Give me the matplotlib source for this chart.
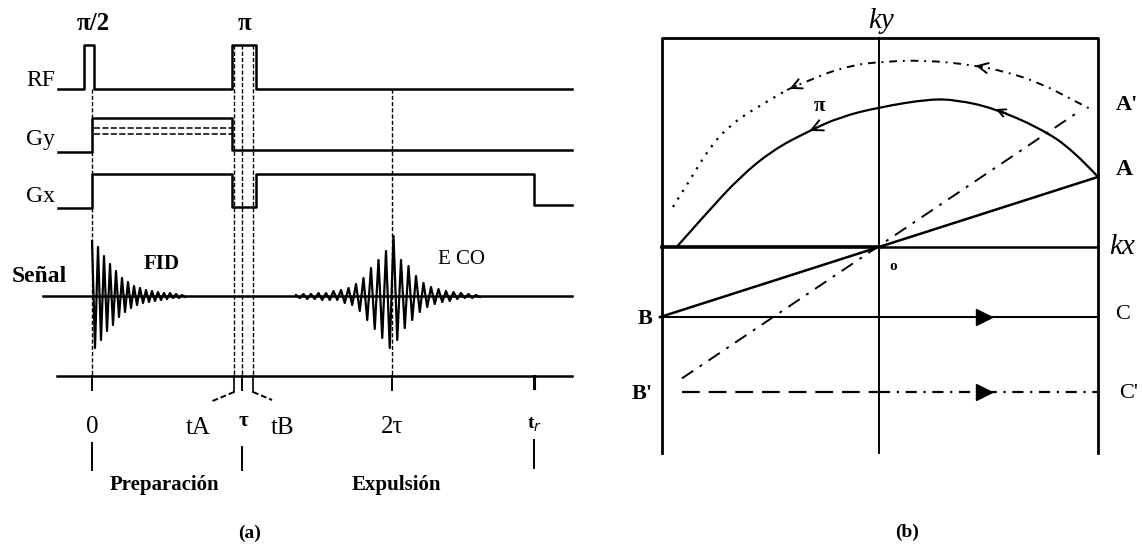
import numpy as np
import matplotlib.pyplot as plt
from matplotlib.path import Path
from matplotlib.patches import PathPatch

plt.rcParams['font.family'] = ['Liberation Serif', 'DejaVu Serif']

# ---------------- (a) spin-echo sequence, time in units of tau ----------------
t_start, t_end = -0.227, 3.2
t_sig_start = -0.327
t_pi2 = [-0.053, 0.013]          # pi/2 pulse edges
t_pi = [0.933, 1.093]            # pi pulse edges
t_A, tau, t_B = 0.947, 1.0, 1.073
t_echo, t_r = 2.0, 2.947

# row levels of each channel (top -> bottom)
rf_base, rf_top = 89, 45
gy_base, gy_base2, gy_top = 152, 150, 118
gy_dash = [128, 134]
gx_base, gx_neg, gx_top, gx_end = 208, 207, 174, 205
sig_base, axis_y = 296, 376

# peak amplitudes of the FID and the echo (alternating sign)
fid_t0, fid_dt = 0.0, 0.02
fid_peaks = [55, 52, 49, 44, 40, 35, 32, 29, 25, 21, 18, 16, 14, 12, 10, 9,
             8, 7, 6, 6, 5, 5, 4, 4, 3, 3, 3, 2, 2, 2, 1, 1]
echo_t0, echo_dt = 1.36, 0.025
echo_peaks = [1, 2, 2, 3, 2, 3, 3, 4, 3, 4, 5, 4, 6, 7, 8, 9, 12, 15, 18, 24,
              28, 33, 36, 42, 45, 52, 60, 44, 36, 32, 30, 24, 20, 16, 13, 11,
              9, 8, 7, 6, 5, 5, 4, 3, 3, 2, 2, 2, 1, 1]

# ---------------- (b) k-space trajectory ----------------
k_left, k_right, k_top, k_bottom = -0.99, 1.0, 0.954, -0.94
A = (1.0, 0.32)
B = (-1.0, -0.32)
A2 = (0.9, 0.61)
B2 = (-0.9, -0.6)
c_ky, c2_ky, c2_start = -0.32, -0.662, -0.9
arrow_kx = 0.48

arc_kx = [-0.924, -0.787, -0.635, -0.484, -0.329, -0.178, 0.005, 0.233, 0.356,
          0.521, 0.735, 0.886, 1.0]
arc_ky = [0.0, 0.155, 0.320, 0.443, 0.525, 0.594, 0.639, 0.676, 0.671,
          0.635, 0.543, 0.443, 0.32]
dot_kx = [-0.941, -0.863, -0.772, -0.680, -0.557, -0.420, -0.269, -0.119,
          0.005, 0.201, 0.429, 0.584, 0.735, 0.886, 0.973]
dot_ky = [0.183, 0.306, 0.457, 0.557, 0.639, 0.717, 0.785, 0.831, 0.845,
          0.854, 0.831, 0.799, 0.749, 0.671, 0.626]

fig = plt.figure(figsize=(11.43, 5.5), dpi=100)
fig.patch.set_facecolor('white')

ax_a = fig.add_axes([0, 0, 575 / 1143, 1])
ax_a.set_xlim(-92 / 150, 483 / 150)
ax_a.set_ylim(550, 0)
ax_a.axis('off')

lw_main = 1.8
k = 'black'

# RF
ax_a.plot([t_start, t_pi2[0], t_pi2[0], t_pi2[1], t_pi2[1], t_pi[0], t_pi[0],
           t_pi[1], t_pi[1], t_end],
          [rf_base, rf_base, rf_top, rf_top, rf_base, rf_base, rf_top, rf_top,
           rf_base, rf_base], color=k, lw=lw_main)
# Gy
ax_a.plot([t_start, 0, 0, t_pi[0], t_pi[0], t_end],
          [gy_base, gy_base, gy_top, gy_top, gy_base2, gy_base2], color=k, lw=lw_main)
for lv in gy_dash:
    ax_a.plot([0.013, t_pi[0]], [lv, lv], color=k, lw=1.1, ls=(0, (4, 1.5)))
# Gx
ax_a.plot([t_start, 0, 0, t_pi[0], t_pi[0], t_pi[1], t_pi[1], t_r, t_r, t_end],
          [gx_base, gx_base, gx_top, gx_top, gx_neg, gx_neg, gx_top, gx_top,
           gx_end, gx_end], color=k, lw=lw_main)

# dashed time markers
for t, y0 in [(0, rf_base), (t_A, rf_top), (tau, rf_top), (t_B, rf_top), (t_echo, rf_base)]:
    ax_a.plot([t, t], [y0, axis_y], color=k, lw=1.0, ls=(0, (3, 1.5)))

# signal
ax_a.plot([t_sig_start, t_end], [sig_base, sig_base], color=k, lw=lw_main)
fid = np.array(fid_peaks)
sgn = np.where(np.arange(len(fid)) % 2 == 0, 1, -1)
ax_a.plot(fid_t0 + np.arange(len(fid)) * fid_dt, sig_base - fid * sgn, color=k, lw=1.6)
echo = np.array(echo_peaks)
sgn = np.where(np.arange(len(echo)) % 2 == 0, 1, -1)
ax_a.plot(echo_t0 + np.arange(len(echo)) * echo_dt, sig_base - echo * sgn, color=k, lw=1.6)

# time axis and ticks
ax_a.plot([t_start - 0.006, t_end], [axis_y, axis_y], color=k, lw=lw_main)
for t in [0, tau, t_echo]:
    ax_a.plot([t, t], [axis_y, 390], color=k, lw=1.4)
ax_a.plot([t_r, t_r], [axis_y, 388], color=k, lw=2.2)
ax_a.plot([t_A, t_A], [axis_y, 392], color=k, lw=1.2)
ax_a.plot([t_A, 0.787], [392, 402], color=k, lw=1.4, ls=(0, (3, 1.5)))
ax_a.plot([t_B, t_B], [axis_y, 392], color=k, lw=1.2)
ax_a.plot([t_B, 1.2], [392, 400], color=k, lw=1.4, ls=(0, (3, 1.5)))

# separators under the time labels
ax_a.plot([0, 0], [443, 470], color=k, lw=1.4)
ax_a.plot([tau, tau], [447, 470], color=k, lw=1.4)
ax_a.plot([t_r, t_r], [440, 468], color=k, lw=1.4)

# texts (a)
ax_a.text(-0.245, 80, 'RF', ha='right', va='center', fontsize=17)
ax_a.text(-0.245, 140, 'Gy', ha='right', va='center', fontsize=17)
ax_a.text(-0.245, 197, 'Gx', ha='right', va='center', fontsize=17)
ax_a.text(-0.535, 277, 'Señal', ha='left', va='center', fontsize=17, fontweight='bold')
ax_a.text(0.467, 264, 'FID', ha='center', va='center', fontsize=15, fontweight='bold')
ax_a.text(2.46, 260, 'E CO', ha='center', va='center', fontsize=15)
ax_a.text(0.007, 24, 'π/2', ha='center', va='center', fontsize=18, fontweight='bold')
ax_a.text(1.02, 24, 'π', ha='center', va='center', fontsize=18, fontweight='bold')
ax_a.text(0, 427, '0', ha='center', va='center', fontsize=18)
ax_a.text(0.707, 428, 'tA', ha='center', va='center', fontsize=18)
ax_a.text(1.007, 421, 'τ', ha='center', va='center', fontsize=15, fontweight='bold')
ax_a.text(1.273, 428, 'tB', ha='center', va='center', fontsize=18)
ax_a.text(t_echo, 427, '2τ', ha='center', va='center', fontsize=18)
ax_a.text(t_r, 425, 't$_r$', ha='center', va='center', fontsize=14, fontweight='bold')
ax_a.text(0.48, 485, 'Preparación', ha='center', va='center', fontsize=15, fontweight='bold')
ax_a.text(2.03, 485, 'Expulsión', ha='center', va='center', fontsize=15, fontweight='bold')
ax_a.text(1.053, 533, '(a)', ha='center', va='center', fontsize=14, fontweight='bold')

# ---------------- panel (b) ----------------
ax_b = fig.add_axes([575 / 1143, 0, 568 / 1143, 1])
ax_b.set_xlim(-304 / 219, 264 / 219)
ax_b.set_ylim(-303 / 219, 247 / 219)
ax_b.axis('off')

ax_b.plot([k_left, k_left, k_right, k_right], [k_bottom, k_top, k_top, k_bottom],
          color=k, lw=2.0)
ax_b.plot([0, 0], [k_bottom, k_top], color=k, lw=1.4)
ax_b.plot([k_left, 0], [0, 0], color=k, lw=2.6)
ax_b.plot([0, k_right], [0, 0], color=k, lw=1.8)
ax_b.plot([B[0], A[0]], [B[1], A[1]], color=k, lw=1.8)
ax_b.plot([B2[0], A2[0]], [B2[1], A2[1]], color=k, lw=1.4, ls=(0, (7, 4, 1.5, 4)))

# B -> C and B' -> C'
ax_b.plot([k_left, k_right], [c_ky, c_ky], color=k, lw=1.5)
ax_b.plot([arrow_kx], [c_ky], marker='>', color=k, ms=11)
ax_b.plot([c2_start, 0], [c2_ky, c2_ky], color=k, lw=1.6, ls=(0, (8, 4)))
ax_b.plot([0, k_right], [c2_ky, c2_ky], color=k, lw=1.6, ls=(0, (5, 3, 1, 3)))
ax_b.plot([arrow_kx], [c2_ky], marker='>', color=k, ms=11)


def smooth_path(xs, ys):
    # quadratic B-spline through the read points, drawn by matplotlib's Path
    pts = np.column_stack([xs, ys])
    verts, codes = [pts[0]], [Path.MOVETO]
    n = len(pts)
    for i in range(1, n - 1):
        end = pts[i + 1] if i == n - 2 else (pts[i] + pts[i + 1]) / 2
        verts += [pts[i], end]
        codes += [Path.CURVE3, Path.CURVE3]
    return Path(verts, codes)


# arcs
ax_b.add_patch(PathPatch(smooth_path(arc_kx, arc_ky), fill=False, color=k, lw=1.6))
split = 6
ax_b.add_patch(PathPatch(smooth_path(dot_kx[:split], dot_ky[:split]), fill=False,
                         color=k, lw=1.6, ls=(0, (1, 3))))
ax_b.add_patch(PathPatch(smooth_path(dot_kx[split - 1:], dot_ky[split - 1:]), fill=False,
                         color=k, lw=1.4, ls=(0, (4, 3, 1, 3))))


def arc_arrow(xs, ys, i, frac=0.35, size=18):
    hx, hy = xs[i], ys[i]
    tx = hx + frac * (xs[i + 1] - hx)
    ty = hy + frac * (ys[i + 1] - hy)
    ax_b.annotate('', xy=(hx, hy), xytext=(tx, ty),
                  arrowprops=dict(arrowstyle='->', color=k, lw=1.4, mutation_scale=size))


arc_arrow(dot_kx, dot_ky, 10)
arc_arrow(dot_kx, dot_ky, 5)
arc_arrow(arc_kx, arc_ky, 9, size=14)
arc_arrow(arc_kx, arc_ky, 4, size=20)

# texts (b)
ax_b.text(0.01, 1.03, 'ky', ha='center', va='center', fontsize=21, style='italic')
ax_b.text(1.11, 0.0, 'kx', ha='center', va='center', fontsize=21, style='italic')
ax_b.text(0.064, -0.091, 'o', ha='center', va='center', fontsize=11, fontweight='bold')
ax_b.text(-0.274, 0.644, 'π', ha='center', va='center', fontsize=15, fontweight='bold')
ax_b.text(1.13, 0.648, "A'", ha='center', va='center', fontsize=16, fontweight='bold')
ax_b.text(1.12, 0.352, 'A', ha='center', va='center', fontsize=17, fontweight='bold')
ax_b.text(1.11, c_ky + 0.01, 'C', ha='center', va='center', fontsize=16)
ax_b.text(1.14, c2_ky - 0.005, "C'", ha='center', va='center', fontsize=16)
ax_b.text(-1.07, c_ky - 0.01, 'B', ha='center', va='center', fontsize=16, fontweight='bold')
ax_b.text(-1.08, c2_ky - 0.01, "B'", ha='center', va='center', fontsize=16, fontweight='bold')
ax_b.text(0.128, -1.301, '(b)', ha='center', va='center', fontsize=14, fontweight='bold')

fig.savefig('out.png', dpi=100, facecolor='white')
